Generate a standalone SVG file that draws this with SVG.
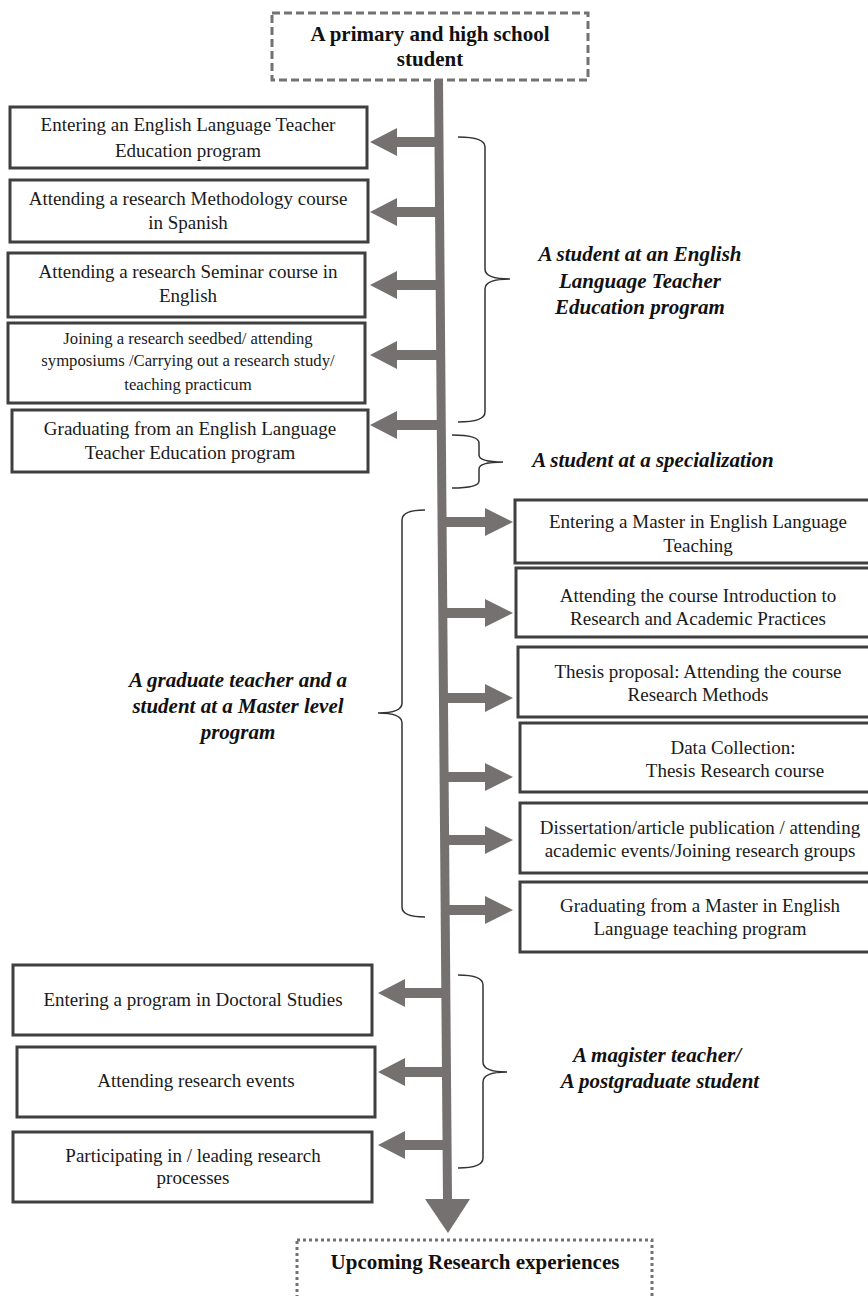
<svg xmlns="http://www.w3.org/2000/svg" width="868" height="1296" viewBox="0 0 868 1296">
<style>
.box{fill:#fff;stroke:#3f3f3f;stroke-width:3}
.t{font-family:"Liberation Serif","Times New Roman",serif;font-size:19px;fill:#1a1a1a;text-anchor:middle}
.ts{font-family:"Liberation Serif","Times New Roman",serif;font-size:16.7px;fill:#1a1a1a;text-anchor:middle}
.ph{font-family:"Liberation Serif","Times New Roman",serif;font-size:21px;font-weight:bold;font-style:italic;fill:#111;text-anchor:middle}
.hd{font-family:"Liberation Serif","Times New Roman",serif;font-size:21px;font-weight:bold;fill:#111;text-anchor:middle}
.ar{fill:#767171}
.br{fill:none;stroke:#333;stroke-width:1.5}
</style>
<rect width="868" height="1296" fill="#fff"/>
<g id="connectors">
<polygon class="ar" points="434,80 443,80 452,1200 443,1200"/>
<polygon class="ar" points="425,1199 470,1199 448,1233"/>
<path class="ar" d="M436,137 L397,137 L397,128 L370,142 L397,156 L397,147 L436,147 Z"/>
<path class="ar" d="M437,207 L397,207 L397,198 L370,212 L397,226 L397,217 L437,217 Z"/>
<path class="ar" d="M437,280 L397,280 L397,271 L370,285 L397,299 L397,290 L437,290 Z"/>
<path class="ar" d="M438,350 L397,350 L397,341 L370,355 L397,369 L397,360 L438,360 Z"/>
<path class="ar" d="M438,420 L397,420 L397,411 L370,425 L397,439 L397,430 L438,430 Z"/>
<path class="ar" d="M441,517 L485,517 L485,508 L513,522 L485,536 L485,527 L441,527 Z"/>
<path class="ar" d="M442,608 L485,608 L485,599 L513,613 L485,627 L485,618 L442,618 Z"/>
<path class="ar" d="M442,693 L485,693 L485,684 L513,698 L485,712 L485,703 L442,703 Z"/>
<path class="ar" d="M443,772 L485,772 L485,763 L513,777 L485,791 L485,782 L443,782 Z"/>
<path class="ar" d="M443,835 L485,835 L485,826 L513,840 L485,854 L485,845 L443,845 Z"/>
<path class="ar" d="M444,905 L485,905 L485,896 L513,910 L485,924 L485,915 L444,915 Z"/>
<path class="ar" d="M446,988 L405,988 L405,979 L378,993 L405,1007 L405,998 L446,998 Z"/>
<path class="ar" d="M447,1067 L405,1067 L405,1058 L378,1072 L405,1086 L405,1077 L447,1077 Z"/>
<path class="ar" d="M447,1140 L405,1140 L405,1131 L378,1145 L405,1159 L405,1150 L447,1150 Z"/>
</g>
<g id="brackets">
<path class="br" d="M458,137 Q485,137 485,147 L485,269 Q485,279 510,279 Q485,279 485,289 L485,412 Q485,422 458,422"/>
<path class="br" d="M452,435 Q479,435 479,443 L479,455 Q479,462 503,462 Q479,462 479,469 L479,481 Q479,488 452,488"/>
<path class="br" d="M425,510 Q402,510 402,520 L402,703 Q402,713 378,713 Q402,713 402,723 L402,907 Q402,917 425,917"/>
<path class="br" d="M458,975 Q483,975 483,985 L483,1062 Q483,1072 507,1072 Q483,1072 483,1082 L483,1158 Q483,1168 458,1168"/>
</g>
<g id="start">
<rect x="272" y="13" width="316" height="67" fill="#fff" stroke="#767171" stroke-width="3" stroke-dasharray="8,4"/>
<text class="hd" x="430" y="41">A primary and high school</text>
<text class="hd" x="430" y="66">student</text>
</g>
<g id="n1"><rect class="box" x="10" y="107" width="357" height="61"/><text class="t" x="188" y="131">Entering an English Language Teacher</text><text class="t" x="188" y="157">Education program</text></g>
<g id="n2"><rect class="box" x="10" y="180" width="358" height="62"/><text class="t" x="188" y="205">Attending a research Methodology course</text><text class="t" x="188" y="229">in Spanish</text></g>
<g id="n3"><rect class="box" x="8" y="253" width="357" height="64"/><text class="t" x="188" y="278">Attending a research Seminar course in</text><text class="t" x="188" y="302">English</text></g>
<g id="n4"><rect class="box" x="8" y="323" width="357" height="80"/><text class="ts" x="188" y="344">Joining a research seedbed/ attending</text><text class="ts" x="188" y="366">symposiums /Carrying out a research study/</text><text class="ts" x="188" y="390">teaching practicum</text></g>
<g id="n5"><rect class="box" x="12" y="410" width="356" height="62"/><text class="t" x="190" y="435">Graduating from an English Language</text><text class="t" x="190" y="459">Teacher Education program</text></g>
<g id="p1"><text class="ph" x="640" y="261">A student at an English</text><text class="ph" x="640" y="288">Language Teacher</text><text class="ph" x="640" y="314">Education program</text></g>
<g id="p2"><text class="ph" x="653" y="467">A student at a specialization</text></g>
<g id="r1"><rect class="box" x="515" y="500" width="360" height="63"/><text class="t" x="698" y="528">Entering a Master in English Language</text><text class="t" x="698" y="552">Teaching</text></g>
<g id="r2"><rect class="box" x="516" y="568" width="360" height="69"/><text class="t" x="698" y="602">Attending the course Introduction to</text><text class="t" x="698" y="625">Research and Academic Practices</text></g>
<g id="r3"><rect class="box" x="518" y="647" width="360" height="70"/><text class="t" x="698" y="678">Thesis proposal: Attending the course</text><text class="t" x="698" y="701">Research Methods</text></g>
<g id="r4"><rect class="box" x="520" y="723" width="360" height="69"/><text class="t" x="733" y="754">Data Collection:</text><text class="t" x="735" y="777">Thesis Research course</text></g>
<g id="r5"><rect class="box" x="520" y="803" width="360" height="70"/><text class="t" x="700" y="834">Dissertation/article publication / attending</text><text class="t" x="700" y="857">academic events/Joining research groups</text></g>
<g id="r6"><rect class="box" x="520" y="882" width="360" height="70"/><text class="t" x="700" y="912">Graduating from a Master in English</text><text class="t" x="700" y="935">Language teaching program</text></g>
<g id="p3"><text class="ph" x="238" y="687">A graduate teacher and a</text><text class="ph" x="238" y="713">student at a Master level</text><text class="ph" x="238" y="739">program</text></g>
<g id="n6"><rect class="box" x="13" y="965" width="359" height="70"/><text class="t" x="193" y="1006">Entering a program in Doctoral Studies</text></g>
<g id="n7"><rect class="box" x="17" y="1047" width="358" height="70"/><text class="t" x="196" y="1087">Attending research events</text></g>
<g id="n8"><rect class="box" x="13" y="1132" width="359" height="70"/><text class="t" x="193" y="1162">Participating in / leading research</text><text class="t" x="193" y="1184">processes</text></g>
<g id="p4"><text class="ph" x="657" y="1062">A magister teacher/</text><text class="ph" x="660" y="1088">A postgraduate student</text></g>
<g id="end">
<rect x="297" y="1240" width="355" height="70" fill="#fff" stroke="#767171" stroke-width="3" stroke-dasharray="3,3"/>
<text class="hd" x="475" y="1269">Upcoming Research experiences</text>
</g>
</svg>
